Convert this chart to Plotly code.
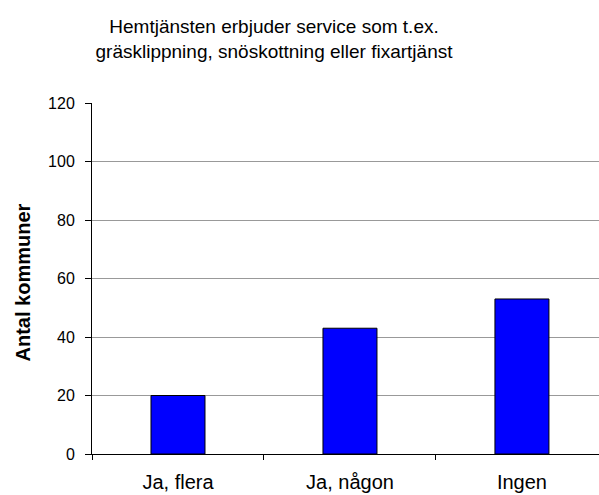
import plotly.graph_objects as go

categories = ["Ja, flera", "Ja, någon", "Ingen"]
values = [20, 43, 53]
y_ticks = [0, 20, 40, 60, 80, 100, 120]
title_text = "Hemtjänsten erbjuder service som t.ex.<br>gräsklippning, snöskottning eller fixartjänst"
y_title = "Antal kommuner"

FONT = "Liberation Sans, Arial, sans-serif"

fig = go.Figure()
fig.add_trace(go.Bar(
    x=categories, y=values, width=0.314,
    marker=dict(color="#0000ff", line=dict(color="#000000", width=1)),
))

fig.update_layout(
    width=599, height=495,
    margin=dict(l=92, r=0, t=103, b=41),
    paper_bgcolor="white", plot_bgcolor="white",
    showlegend=False,
    font=dict(family=FONT, color="#000000"),
    title=dict(text=title_text, x=274/599, xanchor="center", xref="container",
               y=1-33/495, yanchor="middle", yref="container",
               font=dict(size=19, family=FONT, color="#000000")),
    annotations=[dict(text="<b>" + y_title + "</b>", xref="paper", yref="paper",
                      x=(22-92)/507, y=(454-282.5)/351, textangle=-90,
                      showarrow=False, xanchor="center", yanchor="middle",
                      font=dict(size=20, family=FONT, color="#000000"))],
)

fig.update_xaxes(
    type="category", range=[-0.5, 2.448],
    showline=True, linecolor="#000000", linewidth=1,
    ticks="outside", ticklen=5, tickcolor="#000000", tickson="boundaries",
    showgrid=False, tickfont=dict(size=20, family=FONT, color="#000000"),
    ticklabelstandoff=10,
)
fig.update_yaxes(
    range=[0, 120], tickvals=y_ticks,
    showline=True, linecolor="#000000", linewidth=1,
    ticks="outside", ticklen=6, tickcolor="#000000",
    showgrid=True, gridcolor="#999999", gridwidth=1,
    zeroline=False,
    tickfont=dict(size=16, family=FONT, color="#000000"),
    ticklabelstandoff=7,
)

fig.write_html("out.html", config={"displayModeBar": False},
               post_script="document.body.style.margin='0';document.body.style.overflow='hidden';")
